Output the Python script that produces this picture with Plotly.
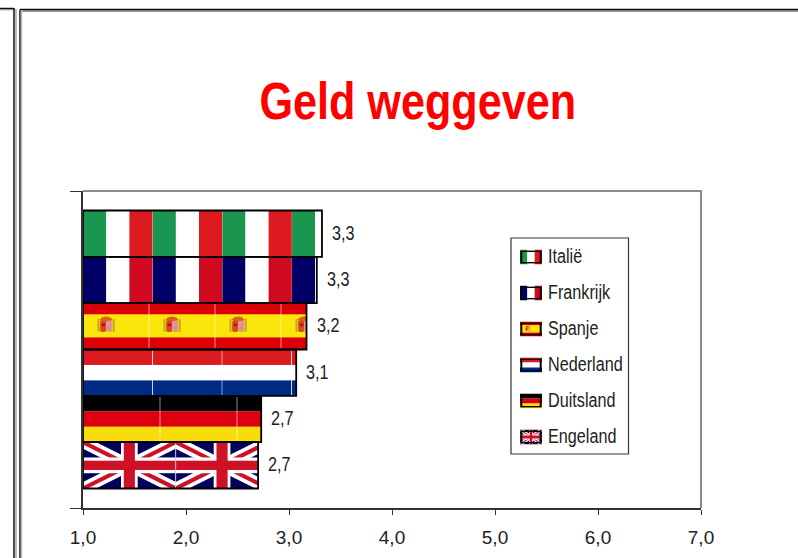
import base64
import plotly.graph_objects as go

# ---- data ----
countries = ["Italië", "Frankrijk", "Spanje", "Nederland", "Duitsland", "Engeland"]
values = [3.32, 3.27, 3.17, 3.07, 2.73, 2.70]
x_ticks = [1, 2, 3, 4, 5, 6, 7]
title_text = "Geld weggeven"

# ---- page geometry (pixels) ----
W, H = 798, 558
L, R, T, B = 83, 701, 191, 508
GAP = 0.123
BAR_H = (1 - GAP) / len(countries)
UNIT_PX = (R - L) / (x_ticks[-1] - x_ticks[0])
BAR_PX = BAR_H * (B - T)
SANS = "Liberation Sans, Arial, sans-serif"


def px(x):
    return (x - L) / (R - L)


def py(y):
    return 1 - (y - T) / (B - T)


def stripes_v(cols):
    n = len(cols)
    return "".join(
        f'<rect x="{i*100/n}" y="0" width="{100/n+0.3}" height="100" fill="{c}"/>'
        for i, c in enumerate(cols)
    )


def stripes_h(cols):
    n = len(cols)
    return "".join(
        f'<rect x="0" y="{i*100/n}" width="100" height="{100/n+0.3}" fill="{c}"/>'
        for i, c in enumerate(cols)
    )


def spain():
    return ('<rect width="100" height="100" fill="#DC0008"/>'
            '<rect y="24" width="100" height="50" fill="#FAE60A"/>'
            '<rect x="22" y="34" width="3" height="28" fill="#C9A227"/>'
            '<rect x="45" y="34" width="3" height="28" fill="#C9A227"/>'
            '<ellipse cx="35" cy="35" rx="9" ry="6" fill="#D8641A"/>'
            '<rect x="26" y="38" width="9" height="24" rx="3" fill="#D9481E"/>'
            '<rect x="35" y="38" width="9" height="24" rx="3" fill="#E88FA0"/>'
            '<circle cx="31" cy="47" r="3" fill="#A8141A"/>'
            '<circle cx="39" cy="54" r="2.5" fill="#C9A227"/>')


def union():
    return ('<rect width="100" height="100" fill="#00005F"/>'
            '<path d="M0,0L100,100M100,0L0,100" stroke="#FFFFFF" stroke-width="20"/>'
            '<path d="M0,0L100,100M100,0L0,100" stroke="#CE1126" stroke-width="7"/>'
            '<rect x="41" width="18" height="100" fill="#FFFFFF"/>'
            '<rect y="33" width="100" height="34" fill="#FFFFFF"/>'
            '<rect x="44" width="12" height="100" fill="#CE1126"/>'
            '<rect y="40" width="100" height="20" fill="#CE1126"/>')


flag_art = [
    stripes_v(["#1A9650", "#FFFFFF", "#DD1A20"]),
    stripes_v(["#000066", "#FFFFFF", "#CF0A20"]),
    spain(),
    stripes_h(["#DD1A20", "#FFFFFF", "#002B85"]),
    stripes_h(["#000000", "#DD0010", "#F9DC0C"]),
    union(),
]
tile_px = [69.6, 69.6, 66, 69.5, 77, 92.7]
seam = [False, False, True, True, True, True]


def uri(svg):
    return "data:image/svg+xml;base64," + base64.b64encode(svg.encode()).decode()


def bar_flag(art, tile, length, height, show_seam):
    parts = []
    x = 0.0
    while x < length:
        parts.append(
            f'<svg x="{x}" y="0" width="{tile}" height="{height}" viewBox="0 0 100 100" '
            f'preserveAspectRatio="none">{art}</svg>'
        )
        if show_seam and x > 0:
            parts.append(f'<rect x="{x-0.5}" y="0" width="1" height="{height}" fill="#FFFFFF" opacity="0.55"/>')
        x += tile
    return uri(
        f'<svg xmlns="http://www.w3.org/2000/svg" width="{length}" height="{height}" '
        f'viewBox="0 0 {length} {height}" preserveAspectRatio="none">{"".join(parts)}</svg>'
    )


def mini_flag(art):
    return uri(
        '<svg xmlns="http://www.w3.org/2000/svg" width="22" height="15" viewBox="0 0 100 100" '
        f'preserveAspectRatio="none">{art}'
        '<rect x="6" y="12" width="88" height="76" fill="none" stroke="#000" stroke-width="9"/></svg>'
    )


fig = go.Figure()
images, annotations, shapes = [], [], []

for i, (name, v) in enumerate(zip(countries, values)):
    fig.add_trace(go.Bar(
        name=name, y=[0], x=[v - x_ticks[0]], base=[x_ticks[0]], orientation="h",
        marker=dict(color="rgba(0,0,0,0)", line=dict(color="#000000", width=1.8)),
        showlegend=False, hoverinfo="x+name",
    ))
    centre = -(1 - GAP) / 2 + (i + 0.5) * BAR_H
    length = (v - x_ticks[0]) * UNIT_PX
    images.append(dict(
        source=bar_flag(flag_art[i], tile_px[i], length, BAR_PX, seam[i]),
        xref="x", yref="y", x=x_ticks[0], y=centre, sizex=v - x_ticks[0], sizey=BAR_H,
        xanchor="left", yanchor="middle", sizing="stretch", layer="below",
    ))
    annotations.append(dict(
        xref="x", yref="y", x=v, y=centre, xshift=8, yshift=1, xanchor="left", yanchor="middle", align="left",
        text=f"{v:.1f}".replace(".", ","), showarrow=False,
        font=dict(family=SANS, size=20, color="#222222"),
    ))
    row = 257 + 36 * i
    images.append(dict(
        source=mini_flag(flag_art[i]), xref="paper", yref="paper",
        x=px(520), y=py(row), sizex=22 / (R - L), sizey=15 / (B - T),
        xanchor="left", yanchor="middle", sizing="stretch", layer="above",
    ))
    annotations.append(dict(
        xref="paper", yref="paper", x=px(546), y=py(row - 1), xanchor="left", yanchor="middle", align="left",
        text=name, showarrow=False, font=dict(family=SANS, size=20, color="#222222"),
    ))

# legend box and plot frame
shapes.append(dict(type="rect", xref="paper", yref="paper", x0=px(511), x1=px(628.5), y0=py(238), y1=py(454),
                   line=dict(color="#333333", width=1.2), fillcolor="rgba(0,0,0,0)", layer="above"))
shapes.append(dict(type="path", xref="paper", yref="paper",
                   path=f"M {px(L)} {py(T)} L {px(R)} {py(T)} L {px(R)} {py(B)}",
                   line=dict(color="#8C8C8C", width=2), layer="below"))


# slide panel outlines
def seg(x0, y0, x1, y1, color, width=1.5):
    shapes.append(dict(type="line", xref="paper", yref="paper", x0=px(x0), y0=py(y0), x1=px(x1), y1=py(y1),
                       line=dict(color=color, width=width), layer="above"))


seg(0, 9.5, 14, 9.5, "#BDBDBD", 2)
seg(16, 9, 16, H, "#BDBDBD", 2)
seg(0, 8.5, 14, 8.5, "#111111")
seg(14, 8, 14, H, "#111111")
seg(21.5, 11, W, 11, "#9A9A9A", 2)
seg(20, 9.5, W, 9.5, "#111111")
seg(20, 9.5, 20, H, "#111111")
seg(21.5, 10, 21.5, H, "#BDBDBD", 1.5)

annotations.append(dict(
    xref="paper", yref="paper", x=px(417), y=py(101), xanchor="center", yanchor="middle",
    text=f"<b>{title_text}</b>", showarrow=False,
    font=dict(family=SANS, size=52, color="#FF0000"),
))

fig.update_layout(
    width=W, height=H, margin=dict(l=L, r=W - R, t=T, b=H - B, autoexpand=False),
    paper_bgcolor="#FFFFFF", plot_bgcolor="#FFFFFF",
    barmode="group", bargap=GAP, bargroupgap=0, separators=", ", showlegend=False,
    images=images, annotations=annotations, shapes=shapes,
    xaxis=dict(range=[x_ticks[0], x_ticks[-1]], tickvals=x_ticks, tickformat=".1f", showgrid=False,
               zeroline=False, showline=True, linecolor="#333333", linewidth=1.5,
               ticks="outside", ticklen=5, tickcolor="#333333", tickwidth=1,
               tickfont=dict(family=SANS, size=19, color="#222222"), ticklabelstandoff=6),
    yaxis=dict(range=[0.5, -0.5], tickvals=[-0.5, 0.5], showticklabels=False, showgrid=False,
               zeroline=False, showline=True, linecolor="#333333", linewidth=1.5,
               ticks="outside", ticklen=11, tickcolor="#333333", tickwidth=1),
)

post = """
document.body.style.margin='0';document.body.style.overflow='hidden';
(function(){
  var gd=document.getElementById('{plot_id}');
  function fit(){
    gd.querySelectorAll('.annotation-text').forEach(function(t){
      var big=t.textContent.indexOf('Geld')===0, s=big?0.83:0.81;
      if(t.getAttribute('textLength')) return;
      t.setAttribute('textLength', t.getComputedTextLength()*s);
      t.setAttribute('lengthAdjust','spacingAndGlyphs');
    });
  }
  fit();
  gd.on('plotly_afterplot',fit);
})();
"""
fig.write_html("out.html", post_script=post, config={"displayModeBar": False})
